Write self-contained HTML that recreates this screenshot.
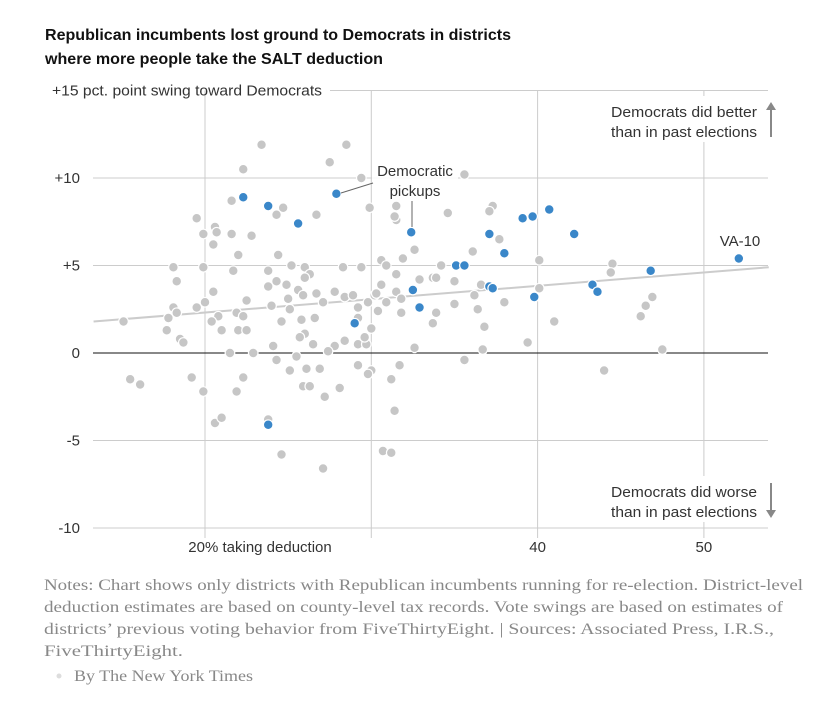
<!DOCTYPE html>
<html><head><meta charset="utf-8"><style>
body{margin:0;background:#fff;width:831px;height:708px;overflow:hidden}
svg text{font-family:"Liberation Sans",sans-serif}
svg text.serif{font-family:"Liberation Serif",serif}
</style></head><body>
<svg width="831" height="708">
<text x="45" y="40" font-size="16" font-weight="bold" fill="#111" textLength="466" lengthAdjust="spacingAndGlyphs">Republican incumbents lost ground to Democrats in districts</text>
<text x="45" y="64" font-size="16" font-weight="bold" fill="#111" textLength="338" lengthAdjust="spacingAndGlyphs">where more people take the SALT deduction</text>
<g id="grid"></g>
<g id="marks"></g>
<g id="annot"></g>
<g font-size="16" fill="#888">
<text class="serif" x="44" y="590" textLength="759" lengthAdjust="spacingAndGlyphs">Notes: Chart shows only districts with Republican incumbents running for re-election. District-level</text>
<text class="serif" x="44" y="612" textLength="739" lengthAdjust="spacingAndGlyphs">deduction estimates are based on county-level tax records. Vote swings are based on estimates of</text>
<text class="serif" x="44" y="634" textLength="730" lengthAdjust="spacingAndGlyphs">districts’ previous voting behavior from FiveThirtyEight. | Sources: Associated Press, I.R.S.,</text>
<text class="serif" x="44" y="656" textLength="139" lengthAdjust="spacingAndGlyphs">FiveThirtyEight.</text>
<circle cx="59" cy="676" r="2.5" fill="#ddd"/>
<text class="serif" x="74" y="681" textLength="179" lengthAdjust="spacingAndGlyphs">By The New York Times</text>
</g>
</svg>
<script>
const xTicks=[20,30,40,50];
const xTickLabels=["20% taking deduction","","40","50"];
const yTicks=[15,10,5,0,-5,-10];
const yTickLabels=["+15 pct. point swing toward Democrats","+10","+5","0","-5","-10"];
const grayX=[23.4,28.5,22.3,27.5,29.4,29.9,21.6,24.7,24.3,26.7,19.5,20.6,19.9,20.7,21.6,22.8,20.5,22.0,24.4,18.1,19.9,21.7,23.8,25.2,26.0,26.3,26.0,28.3,29.4,30.6,18.3,24.3,23.8,24.9,30.6,20.5,25.6,25.9,26.7,27.8,22.5,20.0,25.0,28.4,28.9,30.2,18.1,19.5,24.0,25.1,27.1,29.2,29.8,30.9,15.1,17.8,18.3,20.8,20.4,21.9,22.3,24.6,25.8,26.6,29.2,30.4,17.7,18.5,18.7,21.0,22.0,22.5,26.0,25.7,30.0,24.1,26.5,28.4,27.8,29.2,29.7,29.6,21.5,22.9,25.5,27.4,24.3,25.1,26.1,26.9,29.2,30.0,29.8,15.5,16.1,19.2,22.3,19.9,21.9,25.9,26.3,28.1,27.2,20.6,21.0,23.8,24.6,27.1,35.6,31.5,31.5,31.4,34.6,37.3,37.1,37.7,32.6,31.9,36.1,30.9,31.5,34.2,40.1,44.5,44.4,32.9,33.7,33.9,35.0,36.6,31.5,30.3,36.2,40.1,31.8,30.9,35.0,38.0,46.9,46.5,46.2,31.8,33.9,36.4,33.7,41.0,36.8,32.6,39.4,36.7,47.5,31.7,35.6,44.0,31.2,31.4,30.7,31.2];
const grayY=[11.9,11.9,10.5,10.9,10.0,8.3,8.7,8.3,7.9,7.9,7.7,7.2,6.8,6.9,6.8,6.7,6.2,5.6,5.6,4.9,4.9,4.7,4.7,5.0,4.9,4.5,4.3,4.9,4.9,5.3,4.1,4.1,3.8,3.9,3.9,3.5,3.6,3.3,3.4,3.5,3.0,2.9,3.1,3.2,3.3,3.3,2.6,2.6,2.7,2.5,2.9,2.6,2.9,2.9,1.8,2.0,2.3,2.1,1.8,2.3,2.1,1.8,1.9,2.0,2.0,2.4,1.3,0.8,0.6,1.3,1.3,1.3,1.1,0.9,1.4,0.4,0.5,0.7,0.4,0.5,0.5,0.9,0,0,-0.2,0.1,-0.4,-1.0,-0.9,-0.9,-0.7,-1.0,-1.2,-1.5,-1.8,-1.4,-1.4,-2.2,-2.2,-1.9,-1.9,-2.0,-2.5,-4.0,-3.7,-3.8,-5.8,-6.6,10.2,8.4,7.6,7.8,8.0,8.4,8.1,6.5,5.9,5.4,5.8,5.0,4.5,5.0,5.3,5.1,4.6,4.2,4.3,4.3,4.1,3.9,3.5,3.4,3.3,3.7,3.1,2.9,2.8,2.9,3.2,2.7,2.1,2.3,2.3,2.5,1.7,1.8,1.5,0.3,0.6,0.2,0.2,-0.7,-0.4,-1.0,-1.5,-3.3,-5.6,-5.7];
const blueX=[22.3,23.8,27.9,25.6,29.0,23.8,32.4,37.1,39.1,39.7,40.7,42.2,38.0,35.1,35.6,32.5,32.9,37.1,37.3,39.8,43.3,43.6,46.8,52.1];
const blueY=[8.9,8.4,9.1,7.4,1.7,-4.1,6.9,6.8,7.7,7.8,8.2,6.8,5.7,5.0,5.0,3.6,2.6,3.8,3.7,3.2,3.9,3.5,4.7,5.4];
const trendX=[13.3,53.9];
const trendY=[1.8,4.9];

const NS="http://www.w3.org/2000/svg";
const L=93,R=768;
const sx=v=>205+(v-20)*16.63;
const sy=v=>353-v*17.5;
function mk(tag,attrs,parent,text){const e=document.createElementNS(NS,tag);for(const k in attrs)e.setAttribute(k,attrs[k]);if(text!==undefined)e.textContent=text;parent.appendChild(e);return e;}
const grid=document.getElementById('grid'),marks=document.getElementById('marks'),annot=document.getElementById('annot');
xTicks.forEach((t,i)=>{
  const l=mk('line',{x1:sx(t),x2:sx(t),y1:sy(15),y2:sy(-10)+10,stroke:'#ccc','stroke-width':1},grid);
  
  
  if(xTickLabels[i]){const tx=mk('text',{x:i==0?260:sx(t),y:552,'font-size':15,fill:'#333','text-anchor':'middle'},grid,xTickLabels[i]);
  
  }
});
yTicks.forEach((t,i)=>{
  const l=mk('line',{x1:i==0?330:L,x2:R,y1:sy(t),y2:sy(t),stroke:t===0?'#111':'#ccc','stroke-width':1},grid);
  
  
  const attrs={x:i==0?52:80,y:sy(t)+5,'font-size':15,fill:'#333','text-anchor':i==0?'start':'end'};
  if(i==0){attrs.textLength=270;attrs.lengthAdjust='spacingAndGlyphs';}
  const tx=mk('text',attrs,grid,yTickLabels[i]);
  
  
});
const tl=mk('line',{x1:sx(trendX[0]),y1:sy(trendY[0]),x2:sx(trendX[1]),y2:sy(trendY[1]),stroke:'#ccc','stroke-width':2},marks);


grayX.forEach((x,i)=>{const c=mk('circle',{cx:sx(x),cy:sy(grayY[i]),r:4.8,fill:'#c6c6c6',stroke:'#fff','stroke-width':1.2},marks);

});
blueX.forEach((x,i)=>{const c=mk('circle',{cx:sx(x),cy:sy(blueY[i]),r:4.8,fill:'#3a87c9',stroke:'#fff','stroke-width':1.2},marks);

});
annot.innerHTML=`
<rect x="596" y="96" width="166" height="46" fill="#fff"/>
<text x="757" y="117" font-size="15" fill="#333" text-anchor="end" textLength="146" lengthAdjust="spacingAndGlyphs">Democrats did better</text>
<text x="757" y="137" font-size="15" fill="#333" text-anchor="end" textLength="146" lengthAdjust="spacingAndGlyphs">than in past elections</text>
<line x1="771" y1="137" x2="771" y2="108" stroke="#888" stroke-width="2"/>
<path d="M766,110 L771,102 L776,110 Z" fill="#888"/>
<rect x="596" y="476" width="166" height="46" fill="#fff"/>
<text x="757" y="497" font-size="15" fill="#333" text-anchor="end" textLength="146" lengthAdjust="spacingAndGlyphs">Democrats did worse</text>
<text x="757" y="517" font-size="15" fill="#333" text-anchor="end" textLength="146" lengthAdjust="spacingAndGlyphs">than in past elections</text>
<line x1="771" y1="483" x2="771" y2="512" stroke="#888" stroke-width="2"/>
<path d="M766,510 L771,518 L776,510 Z" fill="#888"/>
<rect x="372" y="160" width="86" height="40" fill="#fff" opacity="0.9"/>
<text x="415" y="176" font-size="15" fill="#333" text-anchor="middle">Democratic</text>
<text x="415" y="196" font-size="15" fill="#333" text-anchor="middle">pickups</text>
<line x1="412" y1="201" x2="412" y2="227" stroke="#666"/>
<line x1="341" y1="193" x2="373" y2="183" stroke="#666"/>
<text x="740" y="246" font-size="15" fill="#333" text-anchor="middle">VA-10</text>`;
</script>
</body></html>
